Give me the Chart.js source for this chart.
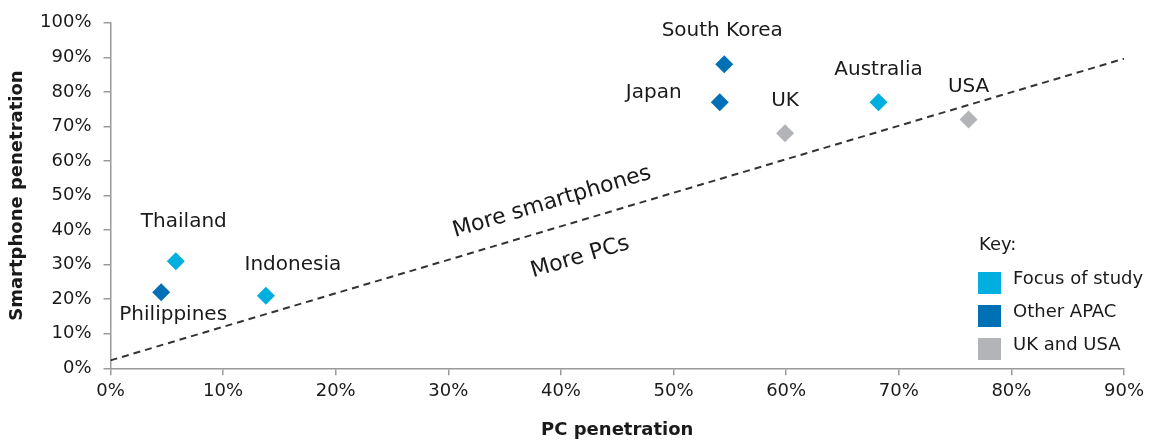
<!DOCTYPE html>
<html><head><meta charset="utf-8">
<script src="https://cdn.jsdelivr.net/npm/chart.js@4"></script>
<style>html,body{margin:0;padding:0;background:#fff;}#wrap{width:1149px;height:441px;position:relative;}</style>
</head><body><div id="wrap"><canvas id="c" width="1149" height="441"></canvas></div>
<script>
// ---- data ----
const countries = ["Thailand","Philippines","Indonesia","South Korea","Japan","UK","Australia","USA"];
const pcPenetration = [5.8, 4.5, 13.8, 54.5, 54.1, 59.9, 68.2, 76.2];
const smartphonePenetration = [31, 22, 21, 88, 77, 68, 77, 72];
const countryGroup = ["Focus of study","Other APAC","Focus of study","Other APAC","Other APAC","UK and USA","Focus of study","UK and USA"];
const groupNames = ["Focus of study","Other APAC","UK and USA"];
const parityLineX = [0, 90];
const parityLineY = [2.3, 89.6];
const regionLabels = ["More smartphones","More PCs"];
const regionLabelX = [39.2, 41.7];
const regionLabelY = [48.1, 32.1];
const xTickMax = 90, yTickMax = 100, tickStep = 10;

// ---- styles ----
const groupColors = {"Focus of study":"#00afdf","Other APAC":"#0071b4","UK and USA":"#b3b4b8"};
const labelOffsets = {"Thailand":[8,-39],"Philippines":[12,23],"Indonesia":[27,-31],"South Korea":[-2,-33],"Japan":[-66,-9],"UK":[0,-33],"Australia":[0,-32],"USA":[0,-33]};
const FONT = "'DejaVu Sans', sans-serif";
const TXT = "#1a1a1a";

const datasets = groupNames.map(g => ({
  type: 'scatter',
  label: g,
  data: countries.map((c,i)=>({x:pcPenetration[i], y:smartphonePenetration[i], name:c})).filter((d,i)=>countryGroup[i]===g),
  backgroundColor: groupColors[g],
  borderWidth: 0,
  pointStyle: 'rectRot',
  pointRadius: 9,
  pointHoverRadius: 9,
  order: 1
}));
datasets.push({
  type: 'line',
  label: 'parity',
  data: parityLineX.map((x,i)=>({x, y:parityLineY[i]})),
  borderColor: '#333333',
  borderWidth: 2,
  borderDash: [7,5],
  pointRadius: 0,
  fill: false,
  order: 2
});

const labelPlugin = {
  id: 'labels',
  afterDatasetsDraw(chart) {
    const ctx = chart.ctx;
    const xs = chart.scales.x, ys = chart.scales.y;
    ctx.save();
    ctx.fillStyle = TXT;
    ctx.font = "20px " + FONT;
    ctx.textAlign = 'center';
    ctx.textBaseline = 'middle';
    countries.forEach((c,i)=>{
      const px = xs.getPixelForValue(pcPenetration[i]);
      const py = ys.getPixelForValue(smartphonePenetration[i]);
      const o = labelOffsets[c];
      ctx.fillText(c, px + o[0], py + o[1]);
    });
    // rotated region labels aligned with the dashed line
    const x0 = xs.getPixelForValue(parityLineX[0]), y0 = ys.getPixelForValue(parityLineY[0]);
    const x1 = xs.getPixelForValue(parityLineX[1]), y1 = ys.getPixelForValue(parityLineY[1]);
    const ang = Math.atan2(y1 - y0, x1 - x0);
    ctx.font = "22px " + FONT;
    regionLabels.forEach((t,i)=>{
      ctx.save();
      ctx.translate(xs.getPixelForValue(regionLabelX[i]), ys.getPixelForValue(regionLabelY[i]));
      ctx.rotate(ang);
      ctx.fillText(t, 0, 0);
      ctx.restore();
    });
    // key
    ctx.textAlign = 'left';
    ctx.font = "18px " + FONT;
    ctx.fillText("Key:", 979, 245);
    groupNames.forEach((g,i)=>{
      const by = 272 + i*33;
      ctx.fillStyle = groupColors[g];
      ctx.fillRect(978, by, 23, 22);
      ctx.fillStyle = TXT;
      ctx.fillText(g, 1013, by + 7);
    });
    ctx.restore();
  }
};

new Chart(document.getElementById('c'), {
  data: { datasets },
  options: {
    responsive: false,
    animation: false,
    layout: { padding: { top: 22, right: 25, bottom: 0, left: 0 } },
    plugins: { legend: { display: false }, tooltip: { enabled: false } },
    scales: {
      x: {
        type: 'linear', min: 0, max: xTickMax,
        ticks: { stepSize: tickStep, color: TXT, font: { family: FONT, size: 18 }, padding: 5, callback: v => v + '%' },
        grid: { drawOnChartArea: false, drawTicks: true, tickLength: 7, color: '#9a9a9a', lineWidth: 1.5 },
        border: { color: '#9a9a9a', width: 1.5 },
        title: { display: true, text: 'PC penetration', color: TXT, font: { family: FONT, size: 18, weight: 'bold' }, padding: { top: 0, bottom: 0 } },
        afterFit(s) { s.height = 72.7; }
      },
      y: {
        type: 'linear', min: 0, max: yTickMax,
        ticks: { stepSize: tickStep, color: TXT, font: { family: FONT, size: 18 }, padding: 12, callback: v => v + '%' },
        grid: { drawOnChartArea: false, drawTicks: true, tickLength: 7, color: '#9a9a9a', lineWidth: 1.5 },
        border: { color: '#9a9a9a', width: 1.5 },
        title: { display: true, text: 'Smartphone penetration', color: TXT, font: { family: FONT, size: 18, weight: 'bold' }, padding: { top: 7, bottom: 0 } },
        afterFit(s) { s.width = 110.5; }
      }
    }
  },
  plugins: [labelPlugin]
});
</script></body></html>
